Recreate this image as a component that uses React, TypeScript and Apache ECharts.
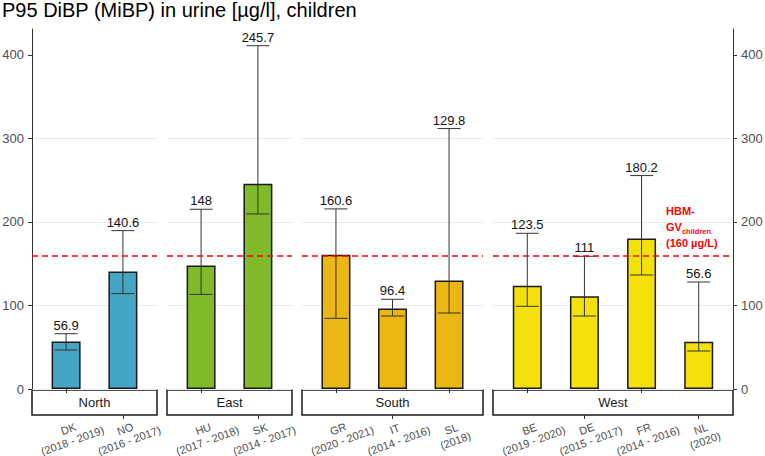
import React, { useEffect, useRef } from "react";
import * as echarts from "echarts";

// ---- data ----
const categories = [
  "DK\n(2018 - 2019)",
  "NO\n(2016 - 2017)",
  "HU\n(2017 - 2018)",
  "SK\n(2014 - 2017)",
  "GR\n(2020 - 2021)",
  "IT\n(2014 - 2016)",
  "SL\n(2018)",
  "BE\n(2019 - 2020)",
  "DE\n(2015 - 2017)",
  "FR\n(2014 - 2016)",
  "NL\n(2020)",
];
const regionOfCategory = [0, 0, 1, 1, 2, 2, 2, 3, 3, 3, 3];
const regionNames = ["North", "East", "South", "West"];
const p95Values = [56.9, 140.6, 148, 245.7, 160.6, 96.4, 129.8, 123.5, 111, 180.2, 56.6];
const ciLower = [46.7, 114.2, 113.3, 209.6, 84.6, 87.4, 91, 99, 87.4, 136.5, 45.5];
const ciUpper = [66.2, 189.6, 215.2, 411, 215.6, 107.4, 311.8, 186.4, 158.9, 255.5, 128.1];
const yTicks = [0, 100, 200, 300, 400];
const guidelineValue = 160;

// ---- styles / layout ----
const regionColors = ["#44A5C4", "#80BA28", "#EAB713", "#F4E00A"];
const FONT = "Liberation Sans";
const PLOT_TOP = 29;
const PLOT_HEIGHT = 360;
const Y_MAX = 431;
const panels = [
  { left: 32, width: 125 },
  { left: 167, width: 125 },
  { left: 302, width: 181 },
  { left: 493, width: 240 },
];

function buildOption() {
  const grids: any[] = [];
  const xAxes: any[] = [];
  const yAxes: any[] = [];
  const series: any[] = [];
  const graphics: any[] = [];

  regionNames.forEach((name, r) => {
    const idx = categories.map((_, k) => k).filter((k) => regionOfCategory[k] === r);
    const n = idx.length;
    const p = panels[r];
    grids.push({
      left: p.left,
      width: p.width,
      top: PLOT_TOP,
      height: PLOT_HEIGHT,
      containLabel: false,
      outerBoundsMode: "none",
    });
    // x axes: one for even-position categories (used by the series), one for odd positions
    // so that the rotated tick labels are never dropped for overlapping.
    const barAxisIndex = xAxes.length;
    [0, 1].forEach((parity) => {
      const ticks = idx.map((_, j) => j).filter((j) => j % 2 === parity);
      xAxes.push({
        type: "value",
        gridIndex: r,
        position: "bottom",
        min: -0.6,
        max: n - 1 + 0.6,
        offset: 26,
        axisLine: { show: false },
        axisTick: { show: true, customValues: ticks, length: 4, lineStyle: { color: "#333" } },
        axisLabel: {
          customValues: ticks,
          formatter: (v: number) => categories[idx[Math.round(v)]],
          rotate: 20,
          align: "center",
          verticalAlign: "top",
          margin: 8,
          fontSize: 11,
          lineHeight: 12.5,
          color: "#4D4D4D",
          fontFamily: FONT,
        },
        splitLine: { show: false },
      });
    });
    const showAxis = r === 0 || r === 3;
    yAxes.push({
      type: "value",
      gridIndex: r,
      min: 0,
      max: Y_MAX,
      interval: 100,
      position: r === 3 ? "right" : "left",
      axisLine: { show: showAxis, onZero: false, lineStyle: { color: "#333", width: 1 } },
      axisTick: { show: showAxis, customValues: yTicks, length: 4, lineStyle: { color: "#333" } },
      axisLabel: {
        show: showAxis,
        customValues: yTicks,
        fontSize: 13,
        color: "#4D4D4D",
        margin: 8,
        fontFamily: FONT,
      },
      splitLine: { show: true, showMaxLine: false, lineStyle: { color: "#EBEBEB", width: 1 } },
    });
    // guideline (behind bars)
    series.push({
      type: "line",
      xAxisIndex: barAxisIndex,
      yAxisIndex: r,
      data: [],
      z: 1,
      silent: true,
      markLine: {
        silent: true,
        symbol: "none",
        label: { show: false },
        lineStyle: { color: "#FF0000", type: [6, 4], width: 1.5 },
        data: [{ yAxis: guidelineValue }],
      },
    });
    series.push({
      type: "bar",
      xAxisIndex: barAxisIndex,
      yAxisIndex: r,
      barWidth: 29,
      z: 2,
      data: idx.map((k, j) => [j, p95Values[k]]),
      itemStyle: { color: regionColors[r], borderColor: "#1a1a1a", borderWidth: 1.5 },
    });
    series.push({
      type: "custom",
      xAxisIndex: barAxisIndex,
      yAxisIndex: r,
      z: 3,
      encode: { x: 0, y: [1, 2] },
      data: idx.map((k, j) => [j, ciLower[k], ciUpper[k], p95Values[k]]),
      renderItem: (params: any, api: any) => {
        const x = api.value(0);
        const lo = api.coord([x, api.value(1)]);
        const hi = api.coord([x, api.value(2)]);
        const half = 11.5;
        const ls = { stroke: "#333", lineWidth: 1 };
        return {
          type: "group",
          children: [
            { type: "line", shape: { x1: lo[0], y1: lo[1], x2: hi[0], y2: hi[1] }, style: ls },
            { type: "line", shape: { x1: lo[0] - half, y1: lo[1], x2: lo[0] + half, y2: lo[1] }, style: ls },
            { type: "line", shape: { x1: hi[0] - half, y1: hi[1], x2: hi[0] + half, y2: hi[1] }, style: ls },
            {
              type: "text",
              x: hi[0],
              y: hi[1] - 2,
              style: {
                text: String(api.value(3)),
                textAlign: "center",
                textVerticalAlign: "bottom",
                fontSize: 13,
                fontFamily: FONT,
                fill: "#111",
              },
            },
          ],
        };
      },
    });
    // facet strip
    graphics.push({
      type: "group",
      children: [
        {
          type: "rect",
          shape: { x: p.left, y: PLOT_TOP + PLOT_HEIGHT + 1, width: p.width, height: 25 },
          style: { fill: "#fff", stroke: "#1a1a1a", lineWidth: 1.5 },
        },
        {
          type: "text",
          x: p.left + p.width / 2,
          y: PLOT_TOP + PLOT_HEIGHT + 1 + 12.5,
          style: {
            text: name,
            textAlign: "center",
            textVerticalAlign: "middle",
            fontSize: 13,
            fontFamily: FONT,
            fill: "#1a1a1a",
          },
        },
      ],
    });
  });

  graphics.push({
    type: "text",
    x: 666,
    y: 203,
    style: {
      text: "{a|HBM-}\n{a|GV}{s|children}\n{a|(160 µg/L)}",
      textVerticalAlign: "top",
      rich: {
        a: { fontSize: 11, fontWeight: "bold", fill: "#FF0000", lineHeight: 16, fontFamily: FONT },
        s: { fontSize: 7.5, fontWeight: "bold", fill: "#FF0000", lineHeight: 16, fontFamily: FONT, verticalAlign: "bottom" },
      },
    },
    z: 10,
  });

  return {
    animation: false,
    backgroundColor: "#fff",
    textStyle: { fontFamily: FONT },
    title: {
      text: "P95 DiBP (MiBP) in urine [µg/l], children",
      left: 2,
      top: 0,
      padding: 0,
      textStyle: { fontSize: 20, fontWeight: "normal", color: "#000", fontFamily: FONT },
    },
    grid: grids,
    xAxis: xAxes,
    yAxis: yAxes,
    series,
    graphic: graphics,
  };
}

export default function App() {
  const ref = useRef<HTMLDivElement>(null);
  useEffect(() => {
    document.body.style.margin = "0";
    if (!ref.current) return;
    const chart = echarts.init(ref.current, null, { renderer: "svg" });
    chart.setOption(buildOption() as any);
    return () => chart.dispose();
  }, []);
  return <div ref={ref} style={{ width: 765, height: 456, position: "absolute", left: 0, top: 0 }} />;
}
